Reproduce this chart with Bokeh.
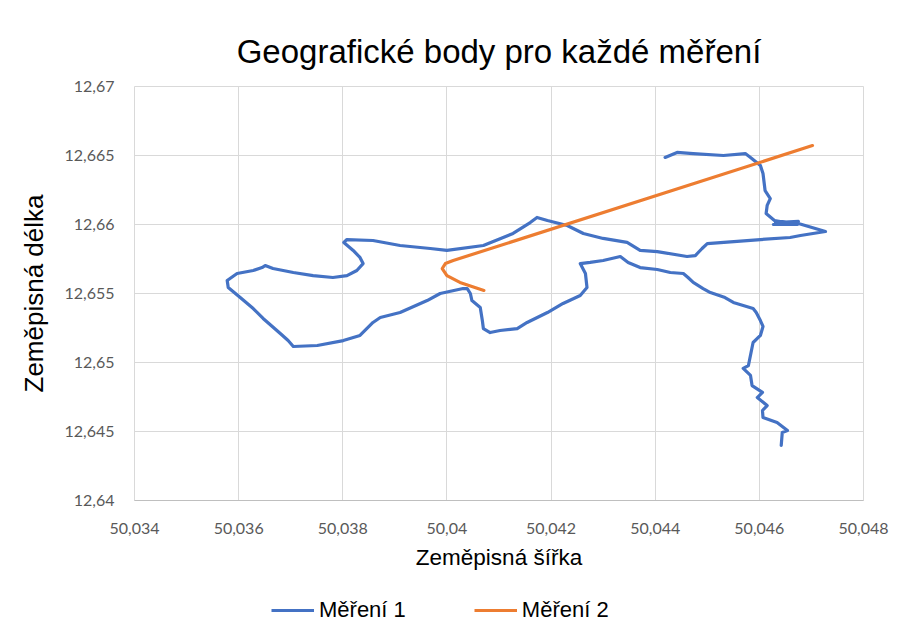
from bokeh.plotting import figure
from bokeh.layouts import column
from bokeh.models import FixedTicker, Legend, LegendItem, Range1d
from bokeh.embed import file_html
from bokeh.resources import INLINE

# ---- data (latitude = "šířka" on x, longitude = "délka" on y)
m1_sirka = [50.04642, 50.04644, 50.04654, 50.04634, 50.04607, 50.04606, 50.04615, 50.04596,
            50.04606, 50.04586, 50.04583, 50.04569, 50.04579, 50.04586, 50.04588, 50.04602,
            50.04607, 50.04602, 50.04594, 50.04588, 50.04569, 50.04550, 50.04534, 50.04506,
            50.04492, 50.04473, 50.04463, 50.04454, 50.04429, 50.04404, 50.04371, 50.04348,
            50.04333, 50.04300, 50.04275, 50.04256, 50.04266, 50.04269, 50.04256, 50.04223,
            50.04193, 50.04154, 50.04135, 50.04102, 50.04083, 50.04070, 50.04068, 50.04064,
            50.04048, 50.04045, 50.04039, 50.04031, 50.03987, 50.03962, 50.03910, 50.03872,
            50.03858, 50.03833, 50.03801, 50.03751, 50.03705, 50.03695, 50.03680, 50.03647,
            50.03628, 50.03603, 50.03580, 50.03578, 50.03597, 50.03628, 50.03645, 50.03651,
            50.03666, 50.03705, 50.03743, 50.03781, 50.03808, 50.03827, 50.03839, 50.03833,
            50.03820, 50.03802, 50.03808, 50.03858, 50.03910, 50.03968, 50.04000, 50.04070,
            50.04127, 50.04160, 50.04173, 50.04193, 50.04231, 50.04262, 50.04300, 50.04346,
            50.04371, 50.04404, 50.04461, 50.04477, 50.04490, 50.04500, 50.04602, 50.04659,
            50.04679, 50.04727, 50.04675, 50.04631, 50.04675, 50.04627, 50.04673, 50.04629,
            50.04613, 50.04615, 50.04621, 50.04611, 50.04607, 50.04602, 50.04583, 50.04573,
            50.04531, 50.04473, 50.04442, 50.04419]
m1_delka = [12.64399, 12.64493, 12.64507, 12.64565, 12.64601, 12.64652, 12.64688, 12.64746,
            12.64783, 12.64833, 12.64906, 12.64957, 12.64978, 12.65109, 12.65145, 12.65196,
            12.65261, 12.65304, 12.65362, 12.65391, 12.65413, 12.65435, 12.65471, 12.65507,
            12.65536, 12.65580, 12.65616, 12.65645, 12.65652, 12.65674, 12.65688, 12.65725,
            12.65768, 12.65739, 12.65725, 12.65717, 12.65645, 12.65543, 12.65486, 12.65428,
            12.65362, 12.65290, 12.65246, 12.65232, 12.65217, 12.65246, 12.65304, 12.65399,
            12.65449, 12.65500, 12.65536, 12.65536, 12.65500, 12.65449, 12.65362, 12.65326,
            12.65290, 12.65196, 12.65159, 12.65123, 12.65116, 12.65159, 12.65210, 12.65319,
            12.65391, 12.65471, 12.65543, 12.65594, 12.65645, 12.65667, 12.65688, 12.65703,
            12.65681, 12.65652, 12.65630, 12.65616, 12.65630, 12.65667, 12.65717, 12.65761,
            12.65812, 12.65870, 12.65891, 12.65884, 12.65848, 12.65826, 12.65812, 12.65848,
            12.65935, 12.66014, 12.66051, 12.66029, 12.65993, 12.65935, 12.65899, 12.65870,
            12.65812, 12.65804, 12.65768, 12.65775, 12.65826, 12.65862, 12.65891, 12.65906,
            12.65920, 12.65949, 12.66007, 12.66014, 12.66022, 12.66000, 12.66000, 12.66029,
            12.66080, 12.66138, 12.66188, 12.66246, 12.66370, 12.66428, 12.66486, 12.66514,
            12.66500, 12.66514, 12.66522, 12.66486]

m2_sirka = [50.04071, 50.04025, 50.04000, 50.03991, 50.03997, 50.04012, 50.04702]
m2_delka = [12.65522, 12.65580, 12.65630, 12.65681, 12.65717, 12.65739, 12.66572]

x_ticks = [50.034, 50.036, 50.038, 50.040, 50.042, 50.044, 50.046, 50.048]
x_tick_labels = ["50,034", "50,036", "50,038", "50,04", "50,042", "50,044", "50,046", "50,048"]
y_ticks = [12.640, 12.645, 12.650, 12.655, 12.660, 12.665, 12.670]
y_tick_labels = ["12,64", "12,645", "12,65", "12,655", "12,66", "12,665", "12,67"]

title_text = "Geografické body pro každé měření"
x_label = "Zeměpisná šířka"
y_label = "Zeměpisná délka"
series_names = ["Měření 1", "Měření 2"]
BLUE = "#4472C4"
ORANGE = "#ED7D31"

W = 900
p = figure(width=W, height=590, output_backend="svg", toolbar_location=None,
           x_range=Range1d(x_ticks[0], x_ticks[-1]), y_range=Range1d(y_ticks[0], y_ticks[-1]),
           min_border_left=134, min_border_right=37, min_border_top=86, min_border_bottom=90)

p.title.text = title_text
p.title.text_font = "Liberation Sans"
p.title.text_font_size = "33px"
p.title.text_font_style = "normal"
p.title.text_color = "#000000"
p.title.align = "center"
p.title.standoff = 33

r1 = p.line(m1_sirka, m1_delka, line_color=BLUE, line_width=3.2, line_join="round", line_cap="round")
r2 = p.line(m2_sirka, m2_delka, line_color=ORANGE, line_width=3.2, line_join="round", line_cap="round")

p.xaxis.ticker = FixedTicker(ticks=x_ticks)
p.yaxis.ticker = FixedTicker(ticks=y_ticks)
p.xaxis.major_label_overrides = {t: l for t, l in zip(x_ticks, x_tick_labels)}
p.yaxis.major_label_overrides = {t: l for t, l in zip(y_ticks, y_tick_labels)}

for ax in (p.xaxis, p.yaxis):
    ax.major_tick_line_color = None
    ax.minor_tick_line_color = None
    ax.major_tick_out = 0
    ax.major_tick_in = 0
    ax.major_label_text_font = "Lato"
    ax.major_label_text_font_size = "16px"
    ax.major_label_text_color = "#595959"
    ax.axis_label_text_font = "Liberation Sans"
    ax.axis_label_text_font_style = "normal"
    ax.axis_label_text_color = "#000000"

p.xaxis.axis_line_color = "#BFBFBF"
p.yaxis.axis_line_color = None
p.xaxis.axis_label = x_label
p.yaxis.axis_label = y_label
p.xaxis.axis_label_text_font_size = "22.5px"
p.yaxis.axis_label_text_font_size = "26px"
p.xaxis.major_label_standoff = 22
p.yaxis.major_label_standoff = 20
p.xaxis.axis_label_standoff = 8
p.yaxis.axis_label_standoff = 12

p.xgrid.grid_line_color = "#D9D9D9"
p.ygrid.grid_line_color = "#D9D9D9"
p.xgrid.ticker = FixedTicker(ticks=x_ticks)
p.ygrid.ticker = FixedTicker(ticks=y_ticks)
p.outline_line_color = "#D9D9D9"

# ---- legend strip below the chart (swatches use the same series, outside its view)
lg = figure(width=W, height=41, output_backend="svg", toolbar_location=None,
            x_range=Range1d(0, 1), y_range=Range1d(0, 1),
            min_border_left=0, min_border_right=0, min_border_top=0, min_border_bottom=0)
lg.axis.visible = False
lg.grid.visible = False
lg.outline_line_color = None
d1 = lg.line(m1_sirka, m1_delka, line_color=BLUE, line_width=3.2)
d2 = lg.line(m2_sirka, m2_delka, line_color=ORANGE, line_width=3.2)

legend = Legend(items=[LegendItem(label=series_names[0], renderers=[d1]),
                       LegendItem(label=series_names[1], renderers=[d2])],
                orientation="horizontal", location=(137, 8),
                label_text_font="Liberation Sans", label_text_font_size="22px",
                label_text_color="#000000", glyph_width=43, glyph_height=20,
                label_standoff=5, spacing=68, padding=0, margin=0,
                border_line_color=None, background_fill_alpha=0)
lg.add_layout(legend, "center")

layout = column(p, lg, spacing=0)
open("out.html", "w").write(file_html(layout, INLINE))
